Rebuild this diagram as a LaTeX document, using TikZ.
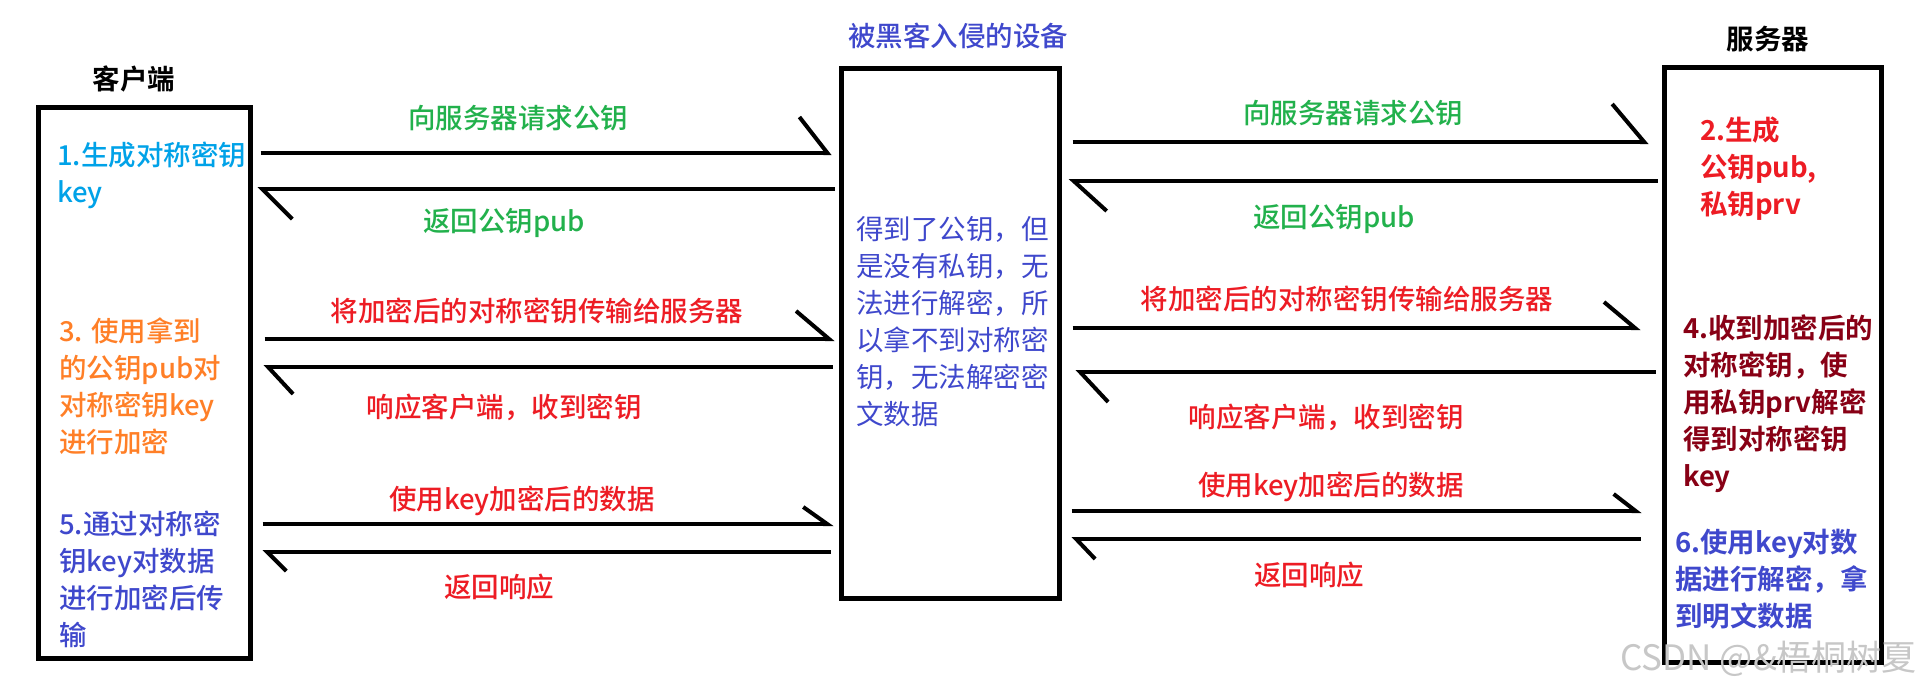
\documentclass[tikz,border=0pt]{standalone}
\usepackage{fontspec}
\setmainfont{Noto Sans CJK SC}[BoldFont={Noto Sans CJK SC Medium}]
\newfontfamily\heavy{Noto Sans CJK SC Bold}
\usepackage{xcolor}
\usetikzlibrary{arrows.meta}

\definecolor{keyblue}{RGB}{0,162,232}
\definecolor{keyorange}{RGB}{255,127,39}
\definecolor{indigo}{RGB}{63,72,204}
\definecolor{msggreen}{RGB}{34,177,76}
\definecolor{msgred}{RGB}{237,28,36}
\definecolor{darkred}{RGB}{136,0,21}

\begin{document}
\begin{tikzpicture}[x=1pt, y=-1pt,
  box/.style={rectangle, draw=black, line width=5pt, inner sep=0pt},
  heading/.style={inner sep=0pt, font=\fontsize{27.5}{33}\selectfont\heavy},
  note/.style={align=left, anchor=west, inner sep=0pt, font=\fontsize{27.5}{37}\selectfont\bfseries},
  heavynote/.style={note, font=\fontsize{27.5}{37}\selectfont\heavy},
  msgtext/.style={inner sep=0pt, font=\fontsize{27.5}{33}\selectfont\bfseries},
  msg/.style n args={4}{line width=4pt, shorten <=#1, shorten >=#2, -{Straight Barb[left, length=#3, width=#4]}}]
\fill[white] (0,0) rectangle (1923,691);
\useasboundingbox (0,0) rectangle (1923,691);

% the three parties
\node (client) [box, minimum width=212pt, minimum height=551pt] at (144.5,383) {};
\node (hacker) [box, minimum width=218pt, minimum height=530pt] at (950.5,333.5) {};
\node (server) [box, minimum width=217pt, minimum height=595pt] at (1773,365) {};

\node (clienttitle) [heading] at (134,79) {客户端};
\node (hackertitle) [msgtext, text=indigo] at (958,36) {被黑客入侵的设备};
\node (servertitle) [heading] at (1768,39) {服务器};

% steps
\node (gen) [note, text=keyblue] at (57,175) {1.生成对称密钥\\key};
\node (enc) [note, text=keyorange] at (59,386.5) {3. 使用拿到\\的公钥pub对\\对称密钥key\\进行加密};
\node (send) [note, text=indigo] at (59,579) {5.通过对称密\\钥key对数据\\进行加密后传\\输};
\node (stuck) [note, text=indigo, font=\fontsize{27.5}{37}\selectfont] at (856,321.5) {得到了公钥，但\\是没有私钥，无\\法进行解密，所\\以拿不到对称密\\钥，无法解密密\\文数据};
\node (keys) [heavynote, text=msgred] at (1700,169) {2.生成\\公钥pub,\\私钥prv};
\node (recv) [heavynote, text=darkred] at (1683,403.5) {4.收到加密后的\\对称密钥，使\\用私钥prv解密\\得到对称密钥\\key};
\node (plain) [heavynote, text=indigo] at (1675,579.5) {6.使用key对数\\据进行解密，拿\\到明文数据};

% client <-> hacker
\node (askl) [msgtext, text=msggreen] at (518,118) {向服务器请求公钥};
\node (publ) [msgtext, text=msggreen] at (504,223) {返回公钥pub};
\node (keyl) [msgtext, text=msgred] at (537,311) {将加密后的对称密钥传输给服务器};
\node (ackl) [msgtext, text=msgred] at (504,407) {响应客户端，收到密钥};
\node (datal) [msgtext, text=msgred] at (522,501) {使用key加密后的数据};
\node (repl) [msgtext, text=msgred] at (499,587) {返回响应};

\draw[msg={7.5pt}{7.5pt}{28pt}{72pt}] (client.east |- 0,153) -- (hacker.west |- 0,153);
\draw[msg={4.5pt}{4.5pt}{30pt}{60pt}] (hacker.west |- 0,189) -- (client.east |- 0,189);
\draw[msg={11.5pt}{4.5pt}{33pt}{56pt}] (client.east |- 0,339) -- (hacker.west |- 0,339);
\draw[msg={6.5pt}{10.5pt}{25pt}{54pt}] (hacker.west |- 0,367) -- (client.east |- 0,367);
\draw[msg={9.5pt}{5.5pt}{24pt}{34pt}] (client.east |- 0,524) -- (hacker.west |- 0,524);
\draw[msg={8.5pt}{9.5pt}{19pt}{38pt}] (hacker.west |- 0,552) -- (client.east |- 0,552);

% hacker <-> server
\node (askr) [msgtext, text=msggreen] at (1353,113) {向服务器请求公钥};
\node (pubr) [msgtext, text=msggreen] at (1334,219) {返回公钥pub};
\node (keyr) [msgtext, text=msgred] at (1347,299) {将加密后的对称密钥传输给服务器};
\node (ackr) [msgtext, text=msgred] at (1326,417) {响应客户端，收到密钥};
\node (datar) [msgtext, text=msgred] at (1331,487) {使用key加密后的数据};
\node (repr) [msgtext, text=msgred] at (1309,575) {返回响应};

\draw[msg={10.5pt}{13.5pt}{32pt}{76pt}] (hacker.east |- 0,142) -- (server.west |- 0,142);
\draw[msg={4.5pt}{6.5pt}{33pt}{60pt}] (server.west |- 0,181) -- (hacker.east |- 0,181);
\draw[msg={10.5pt}{21.5pt}{31pt}{52pt}] (hacker.east |- 0,328) -- (server.west |- 0,328);
\draw[msg={6.5pt}{13.5pt}{28pt}{60pt}] (server.west |- 0,372) -- (hacker.east |- 0,372);
\draw[msg={9.5pt}{20.5pt}{22pt}{34pt}] (hacker.east |- 0,511) -- (server.west |- 0,511);
\draw[msg={21.5pt}{9.5pt}{19pt}{40pt}] (server.west |- 0,539) -- (hacker.east |- 0,539);

\node (mark) [anchor=east, inner sep=0pt, text=black!22, font=\fontsize{35}{35}\selectfont] at (1917,659) {CSDN @\&梧桐树夏};
\end{tikzpicture}
\end{document}
